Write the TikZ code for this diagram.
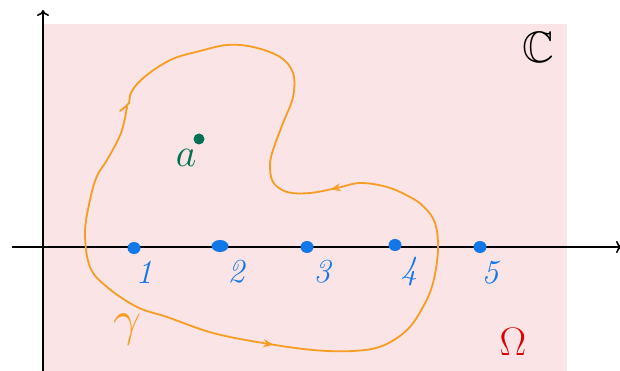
\documentclass[tikz,border=0pt]{standalone}
\usepackage{amssymb}
\usetikzlibrary{decorations.markings,arrows.meta,shapes.geometric}
\definecolor{regionpink}{RGB}{250,228,229}
\definecolor{curveorange}{RGB}{247,157,36}
\definecolor{ptblue}{RGB}{18,120,232}
\definecolor{ptgreen}{RGB}{0,112,82}
\definecolor{omegared}{RGB}{222,0,0}
\tikzset{
  pole/.style={ellipse, fill=ptblue, inner sep=0pt, minimum width=13pt, minimum height=12pt},
  polelabel/.style={text=ptblue, font=\fontsize{24}{24}\selectfont\itshape, scale=1.4},
  biglabel/.style={font=\fontsize{24}{24}\selectfont},
  axis/.style={line width=1.6pt, -{To[length=6pt,width=12pt]}}
}
\begin{document}
\begin{tikzpicture}[x=1pt, y=-1pt]
\useasboundingbox (0,0) rectangle (620,371);
\fill[regionpink] (43,24) rectangle (567,371);
\draw[axis] (12,247) -- (622,247);
\draw[axis] (43,371) -- (43,10);

% the contour gamma
\draw[curveorange, line width=1.8pt, line cap=round,
  postaction={decorate, decoration={markings,
    mark=at position 0.33 with {\arrow{Stealth[length=10pt,width=8pt]}},
    mark=at position 0.66 with {\arrow{Stealth[length=10pt,width=8pt]}}}}]
  plot[smooth, tension=0.6] coordinates {
    (127,107) (121,133) (107,160) (97,176) (90,200) (85,233) (90,267)
    (107,287) (137,307) (167,317) (213,333) (263,343) (313,350) (353,351)
    (382,346) (407,330) (423,307) (433,283) (438,250) (435,223) (424,207)
    (410,197) (387,187) (360,183) (337,188) (310,193) (287,192) (273,182)
    (270,165) (273,150) (283,123) (293,97) (293,73) (280,57) (253,47)
    (227,45) (200,51) (175,58) (155,69) (138,83) (130,95) (129,103) (120,111)};

% poles on the real axis
\node[pole] (d1) at (134,248) {};
\node[pole, minimum width=17pt] (d2) at (220,246) {};
\node[pole] (d3) at (307,247) {};
\node[pole] (d4) at (395,245) {};
\node[pole] (d5) at (480,247) {};
\node[polelabel] (l1) at (144,272) {1};
\node[polelabel] (l2) at (236,272) {2};
\node[polelabel] (l3) at (322,272) {3};
\node[polelabel] (l4) at (409,272) {4};
\node[polelabel] (l5) at (490,273) {5};

% the point a
\node[circle, fill=ptgreen, inner sep=0pt, minimum size=11pt] (pa) at (199,139) {};
\node[biglabel, text=ptgreen, scale=1.6] (la) at (186,158) {$a$};

\node[font=\fontsize{44}{44}\selectfont] (lC) at (538,47) {$\mathbb{C}$};
\node[biglabel, text=omegared, scale=1.6] (lO) at (513,342) {$\Omega$};
\node[biglabel, text=curveorange, scale=2] (lg) at (127,330) {$\gamma$};
\end{tikzpicture}
\end{document}
